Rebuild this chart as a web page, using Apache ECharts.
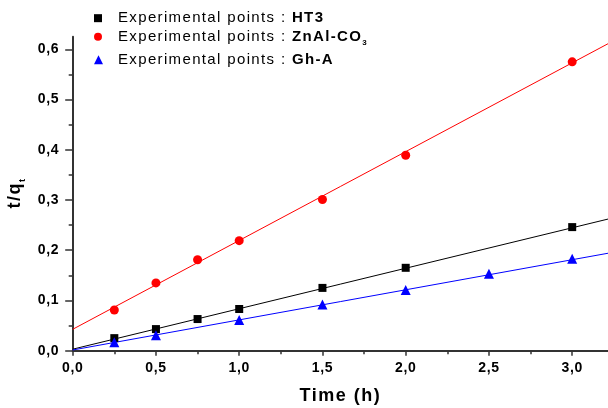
<!DOCTYPE html>
<html><head><meta charset="utf-8">
<script src="https://cdn.jsdelivr.net/npm/echarts@6/dist/echarts.min.js"></script>
<style>html,body{margin:0;padding:0;background:#fff}#c{width:608px;height:408px}</style>
</head><body><div id="c"></div>
<script>
// ---- data ----
const seriesNames = ['HT3', 'ZnAl-CO3', 'Gh-A'];
const timeHT3 = [0.25, 0.5, 0.75, 1.0, 1.5, 2.0, 3.0];
const valHT3  = [0.025, 0.043, 0.063, 0.083, 0.125, 0.165, 0.246];
const timeZn  = [0.25, 0.5, 0.75, 1.0, 1.5, 2.0, 3.0];
const valZn   = [0.081, 0.135, 0.181, 0.219, 0.301, 0.389, 0.575];
const timeGh  = [0.25, 0.5, 1.0, 1.5, 2.0, 2.5, 3.0];
const valGh   = [0.017, 0.031, 0.061, 0.092, 0.121, 0.153, 0.183];
const fitX    = [0, 3.215];
const fitHT3  = [0.003, 0.262];
const fitZn   = [0.0426, 0.611];
const fitGh   = [0.0014, 0.194];
const xTicks  = [0, 0.5, 1.0, 1.5, 2.0, 2.5, 3.0];
const xMinor  = [0.25, 0.75, 1.25, 1.75, 2.25, 2.75];
const yTicks  = [0, 0.1, 0.2, 0.3, 0.4, 0.5, 0.6];
const yMinor  = [0.05, 0.15, 0.25, 0.35, 0.45, 0.55];
const xMax = 3.215, yMax = 0.625;

// letter spacing emulation (Origin-style spaced text), keyed by font size
(function () {
  const P = window.CanvasRenderingContext2D && CanvasRenderingContext2D.prototype;
  if (!P || !('letterSpacing' in P)) return;
  const d = Object.getOwnPropertyDescriptor(P, 'font');
  const SP = { 15: '1.35px', 14: '0.7px', 18: '1.5px' };
  Object.defineProperty(P, 'font', {
    configurable: true,
    get() { return d.get.call(this); },
    set(v) {
      d.set.call(this, v);
      const m = /(\d+(?:\.\d+)?)px/.exec(v);
      this.letterSpacing = (m && SP[+m[1]]) || '0px';
    }
  });
})();

const FONT = 'Liberation Sans, Arial, sans-serif';
const fmt = v => v.toFixed(1).replace('.', ',');
const pts = (xs, ys) => xs.map((x, i) => [x, ys[i]]);

const legendRich = {
  n: { fontSize: 15, fontFamily: FONT, color: '#000', lineHeight: 20, verticalAlign: 'middle' },
  b: { fontSize: 15, fontFamily: FONT, fontWeight: 'bold', color: '#000', lineHeight: 20, verticalAlign: 'middle' },
  s: { fontSize: 8, fontFamily: FONT, fontWeight: 'bold', color: '#000', lineHeight: 8, verticalAlign: 'bottom' }
};
const legendLabel = {
  'HT3': '{b|HT3}',
  'ZnAl-CO3': '{b|ZnAl-CO}{s|3}',
  'Gh-A': '{b|Gh-A}'
};
function mkLegend(name, icon, top, size, pad) {
  return {
    data: [name], left: 94, top: top, padding: 0, icon: icon,
    itemWidth: size, itemHeight: size, selectedMode: false,
    formatter: n => '{n|Experimental points : }' + legendLabel[n],
    textStyle: { rich: legendRich, padding: [0, 0, 0, pad], fontFamily: FONT, fontSize: 15 }
  };
}

const axisLineStyle = { color: '#333', width: 2 };
const chart = echarts.init(document.getElementById('c'), null, { renderer: 'canvas' });
chart.setOption({
  animation: false,
  backgroundColor: '#fff',
  grid: { left: 72.7, right: 0, top: 36.7, bottom: 57.3, containLabel: false, outerBoundsMode: 'none' },
  legend: [
    mkLegend(seriesNames[0], 'rect', 10, 8, 11),
    mkLegend(seriesNames[1], 'circle', 28.5, 8, 11),
    mkLegend(seriesNames[2], 'triangle', 51.5, 9, 10)
  ],
  xAxis: [{
    type: 'value', min: 0, max: xMax, position: 'bottom',
    name: 'Time (h)', nameLocation: 'middle', nameGap: 36,
    nameTextStyle: { fontSize: 18, fontWeight: 'bold', fontFamily: FONT, color: '#000' },
    axisLine: { show: true, onZero: false, lineStyle: axisLineStyle },
    axisTick: { show: true, customValues: xTicks, length: 5, lineStyle: { color: '#333', width: 1.5 } },
    axisLabel: { customValues: xTicks, formatter: fmt, margin: 10, fontSize: 14, fontWeight: 'bold', fontFamily: FONT, color: '#000' },
    splitLine: { show: false }
  }, {
    type: 'value', min: 0, max: xMax, position: 'bottom',
    axisLine: { show: false },
    axisTick: { show: true, customValues: xMinor, length: 3.5, lineStyle: { color: '#333', width: 1.5 } },
    axisLabel: { show: false }, splitLine: { show: false }
  }],
  yAxis: [{
    type: 'value', min: 0, max: yMax, position: 'left',
    name: '{m|t/q}{s|t}', nameLocation: 'middle', nameGap: 42, nameRotate: 90,
    nameTextStyle: {
      fontSize: 18, fontWeight: 'bold', fontFamily: FONT, color: '#000',
      rich: {
        m: { fontSize: 18, fontWeight: 'bold', fontFamily: FONT, color: '#000', lineHeight: 24, verticalAlign: 'middle' },
        s: { fontSize: 9, fontWeight: 'bold', fontFamily: FONT, color: '#000', lineHeight: 9, verticalAlign: 'bottom' }
      }
    },
    axisLine: { show: true, onZero: false, lineStyle: axisLineStyle },
    axisTick: { show: true, customValues: yTicks, length: 7.5, lineStyle: { color: '#333', width: 1.5 } },
    axisLabel: { customValues: yTicks, formatter: fmt, margin: 13.4, fontSize: 14, fontWeight: 'bold', fontFamily: FONT, color: '#000' },
    splitLine: { show: false }
  }, {
    type: 'value', min: 0, max: yMax, position: 'left',
    axisLine: { show: false },
    axisTick: { show: true, customValues: yMinor, length: 4, lineStyle: { color: '#333', width: 1.5 } },
    axisLabel: { show: false }, splitLine: { show: false }
  }],
  series: [
    { name: 'fit HT3', type: 'line', data: pts(fitX, fitHT3), symbol: 'none', silent: true, z: 1,
      lineStyle: { color: '#000', width: 1 } },
    { name: 'fit ZnAl-CO3', type: 'line', data: pts(fitX, fitZn), symbol: 'none', silent: true, z: 1,
      lineStyle: { color: '#ff0000', width: 1 } },
    { name: 'fit Gh-A', type: 'line', data: pts(fitX, fitGh), symbol: 'none', silent: true, z: 1,
      lineStyle: { color: '#0000ff', width: 1 } },
    { name: seriesNames[0], type: 'scatter', data: pts(timeHT3, valHT3), symbol: 'rect', symbolSize: 8,
      itemStyle: { color: '#000', opacity: 1 }, z: 3 },
    { name: seriesNames[1], type: 'scatter', data: pts(timeZn, valZn), symbol: 'circle', symbolSize: 9,
      itemStyle: { color: '#ff0000', opacity: 1 }, z: 3 },
    { name: seriesNames[2], type: 'scatter', data: pts(timeGh, valGh), symbol: 'triangle', symbolSize: 10,
      itemStyle: { color: '#0000ff', opacity: 1 }, z: 3 }
  ]
});
</script>
</body></html>
